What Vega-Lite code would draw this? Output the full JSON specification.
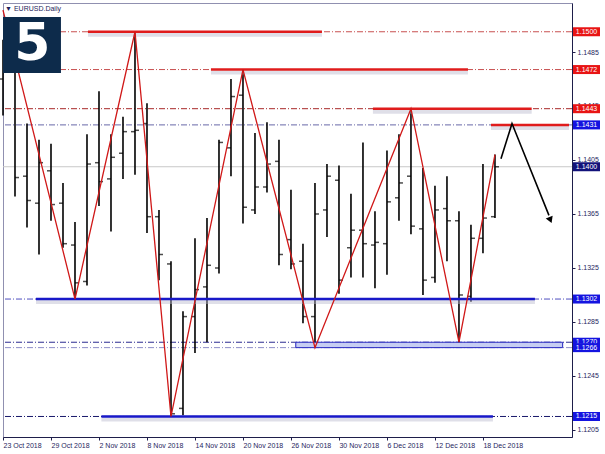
{
  "$schema": "https://vega.github.io/schema/vega-lite/v6.json",
  "width": 569,
  "height": 434,
  "autosize": "none",
  "padding": {"left": 3, "top": 3, "right": 33, "bottom": 17},
  "background": "white",
  "config": {
    "view": {"stroke": "#9090b0", "strokeWidth": 1},
    "font": "Liberation Sans",
    "axis": {"grid": false, "domainColor": "#1e1e4a", "tickColor": "#1e1e4a", "labelColor": "#26265e", "labelFontSize": 7, "tickSize": 3, "labelOverlap": false, "labelFlush": false}
  },
  "resolve": {"scale": {"color": "independent"}},
  "datasets": {
    "bars": [
      {"i": 0, "d": "2018-10-23", "o": 1.1465, "h": 1.1494, "l": 1.1438, "c": 1.1472},
      {"i": 1, "d": "2018-10-24", "o": 1.1471, "h": 1.1473, "l": 1.1378, "c": 1.1392},
      {"i": 2, "d": "2018-10-25", "o": 1.1393, "h": 1.1432, "l": 1.1355, "c": 1.1375},
      {"i": 3, "d": "2018-10-26", "o": 1.1373, "h": 1.1420, "l": 1.1335, "c": 1.1403},
      {"i": 4, "d": "2018-10-29", "o": 1.1397, "h": 1.1417, "l": 1.1360, "c": 1.1372},
      {"i": 5, "d": "2018-10-30", "o": 1.1373, "h": 1.1388, "l": 1.1340, "c": 1.1343},
      {"i": 6, "d": "2018-10-31", "o": 1.1342, "h": 1.1359, "l": 1.1302, "c": 1.1314},
      {"i": 7, "d": "2018-11-01", "o": 1.1315, "h": 1.1424, "l": 1.1312, "c": 1.1402},
      {"i": 8, "d": "2018-11-02", "o": 1.1403, "h": 1.1456, "l": 1.1371, "c": 1.1389},
      {"i": 9, "d": "2018-11-05", "o": 1.1391, "h": 1.1424, "l": 1.1352, "c": 1.1407},
      {"i": 10, "d": "2018-11-06", "o": 1.1410, "h": 1.1437, "l": 1.1391, "c": 1.1426},
      {"i": 11, "d": "2018-11-07", "o": 1.1426, "h": 1.1500, "l": 1.1394, "c": 1.1427},
      {"i": 12, "d": "2018-11-08", "o": 1.1432, "h": 1.1447, "l": 1.1351, "c": 1.1363},
      {"i": 13, "d": "2018-11-09", "o": 1.1363, "h": 1.1368, "l": 1.1316, "c": 1.1335},
      {"i": 14, "d": "2018-11-12", "o": 1.1328, "h": 1.1330, "l": 1.1215, "c": 1.1217},
      {"i": 15, "d": "2018-11-13", "o": 1.1221, "h": 1.1293, "l": 1.1216, "c": 1.1289},
      {"i": 16, "d": "2018-11-14", "o": 1.1289, "h": 1.1347, "l": 1.1262, "c": 1.1309},
      {"i": 17, "d": "2018-11-15", "o": 1.1311, "h": 1.1362, "l": 1.1270, "c": 1.1327},
      {"i": 18, "d": "2018-11-16", "o": 1.1325, "h": 1.1420, "l": 1.1321, "c": 1.1418},
      {"i": 19, "d": "2018-11-19", "o": 1.1414, "h": 1.1465, "l": 1.1393, "c": 1.1452},
      {"i": 20, "d": "2018-11-20", "o": 1.1453, "h": 1.1472, "l": 1.1358, "c": 1.1370},
      {"i": 21, "d": "2018-11-21", "o": 1.1368, "h": 1.1425, "l": 1.1365, "c": 1.1385},
      {"i": 22, "d": "2018-11-22", "o": 1.1385, "h": 1.1433, "l": 1.1381, "c": 1.1402},
      {"i": 23, "d": "2018-11-23", "o": 1.1404, "h": 1.1420, "l": 1.1327, "c": 1.1335},
      {"i": 24, "d": "2018-11-26", "o": 1.1346, "h": 1.1383, "l": 1.1324, "c": 1.1328},
      {"i": 25, "d": "2018-11-27", "o": 1.1330, "h": 1.1343, "l": 1.1284, "c": 1.1289},
      {"i": 26, "d": "2018-11-28", "o": 1.1289, "h": 1.1388, "l": 1.1266, "c": 1.1365},
      {"i": 27, "d": "2018-11-29", "o": 1.1368, "h": 1.1402, "l": 1.1348, "c": 1.1393},
      {"i": 28, "d": "2018-11-30", "o": 1.1390, "h": 1.1401, "l": 1.1306, "c": 1.1316},
      {"i": 29, "d": "2018-12-03", "o": 1.1340, "h": 1.1380, "l": 1.1318, "c": 1.1353},
      {"i": 30, "d": "2018-12-04", "o": 1.1353, "h": 1.1418, "l": 1.1318, "c": 1.1343},
      {"i": 31, "d": "2018-12-05", "o": 1.1342, "h": 1.1367, "l": 1.1310, "c": 1.1344},
      {"i": 32, "d": "2018-12-06", "o": 1.1343, "h": 1.1412, "l": 1.1320, "c": 1.1374},
      {"i": 33, "d": "2018-12-07", "o": 1.1377, "h": 1.1424, "l": 1.1360, "c": 1.1388},
      {"i": 34, "d": "2018-12-10", "o": 1.1393, "h": 1.1443, "l": 1.1350, "c": 1.1356},
      {"i": 35, "d": "2018-12-11", "o": 1.1354, "h": 1.1399, "l": 1.1305, "c": 1.1316},
      {"i": 36, "d": "2018-12-12", "o": 1.1318, "h": 1.1386, "l": 1.1314, "c": 1.1368},
      {"i": 37, "d": "2018-12-13", "o": 1.1369, "h": 1.1393, "l": 1.1330, "c": 1.1360},
      {"i": 38, "d": "2018-12-14", "o": 1.1360, "h": 1.1367, "l": 1.1269, "c": 1.1305},
      {"i": 39, "d": "2018-12-17", "o": 1.1304, "h": 1.1357, "l": 1.1300, "c": 1.1347},
      {"i": 40, "d": "2018-12-18", "o": 1.1347, "h": 1.1402, "l": 1.1336, "c": 1.1362},
      {"i": 41, "d": "2018-12-19", "o": 1.1363, "h": 1.1409, "l": 1.1362, "c": 1.1400}
    ],
    "levels": [
      {"p": 1.1500, "k": "res"},
      {"p": 1.1472, "k": "res"},
      {"p": 1.1443, "k": "res2"},
      {"p": 1.1431, "k": "tgt"},
      {"p": 1.1400, "k": "cur"},
      {"p": 1.1302, "k": "sup"},
      {"p": 1.1270, "k": "sup2"},
      {"p": 1.1266, "k": "sup3"},
      {"p": 1.1215, "k": "low"}
    ],
    "segs": [
      {"p": 1.1500, "a": 7.08, "b": 26.58, "k": "res"},
      {"p": 1.1472, "a": 17.33, "b": 38.75, "k": "res"},
      {"p": 1.1443, "a": 30.83, "b": 44.06, "k": "res"},
      {"p": 1.1431, "a": 40.67, "b": 47.17, "k": "res"},
      {"p": 1.1302, "a": 2.75, "b": 44.33, "k": "sup"},
      {"p": 1.1215, "a": 8.2, "b": 40.83, "k": "sup"}
    ],
    "zone": [
      {"a": 24.4, "b": 46.64, "top": 1.1270, "bot": 1.1266}
    ],
    "zigzag": [
      {"n": 0, "i": 0, "p": 1.1516},
      {"n": 1, "i": 6, "p": 1.1302},
      {"n": 2, "i": 11, "p": 1.1500},
      {"n": 3, "i": 14, "p": 1.1215},
      {"n": 4, "i": 20, "p": 1.1472},
      {"n": 5, "i": 26, "p": 1.1266},
      {"n": 6, "i": 34, "p": 1.1443},
      {"n": 7, "i": 38, "p": 1.1270},
      {"n": 8, "i": 41, "p": 1.1409}
    ],
    "arrow": [
      {"n": 0, "i": 41.5, "p": 1.1406},
      {"n": 1, "i": 42.42, "p": 1.1432},
      {"n": 2, "i": 45.5, "p": 1.1364}
    ],
    "head": [
      {"i": 45.62, "p": 1.13605}
    ],
    "one": [{}]
  },
  "layer": [
    {
      "data": {"name": "levels"},
      "transform": [{"filter": "datum.k == 'cur'"}],
      "mark": {"type": "rule", "color": "#c8c8c8", "strokeWidth": 1},
      "encoding": {
        "y": {"field": "p", "type": "quantitative", "title": null}
      }
    },
    {
      "data": {"name": "levels"},
      "transform": [{"filter": "datum.k != 'cur'"}],
      "mark": {"type": "rule", "strokeWidth": 1, "strokeDash": [6, 2, 1, 2]},
      "encoding": {
        "y": {"field": "p", "type": "quantitative", "title": null},
        "color": {"field": "k", "type": "nominal", "legend": null, "scale": {"domain": ["res", "res2", "tgt", "sup", "sup2", "sup3", "low"], "range": ["#c85050", "#a82828", "#6868a8", "#5050c0", "#2a2a90", "#8c8cc8", "#18186a"]}}
      }
    },
    {
      "data": {"name": "bars"},
      "mark": {"type": "rule", "color": "#000000", "strokeWidth": 1.6},
      "encoding": {
        "x": {"field": "i", "type": "quantitative", "title": null, "scale": {"domain": [0, 47.42], "nice": false, "zero": false},
          "axis": {"orient": "bottom", "values": [0, 4, 8, 12, 16, 20, 24, 28, 32, 36, 40], "labelExpr": "['23 Oct 2018','29 Oct 2018','2 Nov 2018','8 Nov 2018','14 Nov 2018','20 Nov 2018','26 Nov 2018','30 Nov 2018','6 Dec 2018','12 Dec 2018','18 Dec 2018'][round(datum.value/4)]", "labelAlign": "left", "labelBaseline": "top", "labelPadding": 1, "title": null}},
        "y": {"field": "h", "type": "quantitative", "title": null, "scale": {"domain": [1.11998, 1.15213], "nice": false, "zero": false},
          "axis": {"orient": "right", "values": [1.1205, 1.1225, 1.1245, 1.1265, 1.1285, 1.1305, 1.1325, 1.1345, 1.1365, 1.1385, 1.1405, 1.1425, 1.1445, 1.1465, 1.1485, 1.1505], "format": ".4f", "labelPadding": 2, "labelBaseline": "middle", "title": null}},
        "y2": {"field": "l"}
      }
    },
    {
      "data": {"name": "bars"},
      "mark": {"type": "tick", "orient": "horizontal", "color": "#000000", "size": 4, "thickness": 1.5, "xOffset": -2},
      "encoding": {
        "x": {"field": "i", "type": "quantitative", "title": null},
        "y": {"field": "o", "type": "quantitative", "title": null}
      }
    },
    {
      "data": {"name": "bars"},
      "mark": {"type": "tick", "orient": "horizontal", "color": "#000000", "size": 4, "thickness": 1.5, "xOffset": 2},
      "encoding": {
        "x": {"field": "i", "type": "quantitative", "title": null},
        "y": {"field": "c", "type": "quantitative", "title": null}
      }
    },
    {
      "data": {"name": "zone"},
      "mark": {"type": "rect", "fill": "#c6cdf2", "stroke": "#2626c0", "strokeWidth": 1},
      "encoding": {
        "x": {"field": "a", "type": "quantitative", "title": null},
        "x2": {"field": "b"},
        "y": {"field": "top", "type": "quantitative", "title": null},
        "y2": {"field": "bot"}
      }
    },
    {
      "data": {"name": "segs"},
      "mark": {"type": "rule", "color": "#b8b8cc", "strokeWidth": 4, "opacity": 0.45, "yOffset": 3},
      "encoding": {
        "x": {"field": "a", "type": "quantitative", "title": null},
        "x2": {"field": "b"},
        "y": {"field": "p", "type": "quantitative", "title": null}
      }
    },
    {
      "data": {"name": "segs"},
      "mark": {"type": "rule", "strokeWidth": 2.5},
      "encoding": {
        "x": {"field": "a", "type": "quantitative", "title": null},
        "x2": {"field": "b"},
        "y": {"field": "p", "type": "quantitative", "title": null},
        "color": {"field": "k", "type": "nominal", "legend": null, "scale": {"domain": ["res", "sup"], "range": ["#e01c1c", "#1818c8"]}}
      }
    },
    {
      "data": {"name": "zigzag"},
      "mark": {"type": "line", "color": "#d01818", "strokeWidth": 1.3},
      "encoding": {
        "x": {"field": "i", "type": "quantitative", "title": null},
        "y": {"field": "p", "type": "quantitative", "title": null},
        "order": {"field": "n"}
      }
    },
    {
      "data": {"name": "arrow"},
      "mark": {"type": "line", "color": "#000000", "strokeWidth": 1.6},
      "encoding": {
        "x": {"field": "i", "type": "quantitative", "title": null},
        "y": {"field": "p", "type": "quantitative", "title": null},
        "order": {"field": "n"}
      }
    },
    {
      "data": {"name": "head"},
      "mark": {"type": "point", "shape": "triangle-up", "filled": true, "color": "#000000", "size": 55, "angle": 158, "opacity": 1},
      "encoding": {
        "x": {"field": "i", "type": "quantitative", "title": null},
        "y": {"field": "p", "type": "quantitative", "title": null}
      }
    },
    {
      "data": {"name": "levels"},
      "transform": [{"filter": "datum.k != 'sup3'"}],
      "mark": {"type": "tick", "orient": "horizontal", "size": 27, "thickness": 9, "opacity": 1},
      "encoding": {
        "x": {"datum": 48.63, "type": "quantitative", "title": null},
        "y": {"field": "p", "type": "quantitative", "title": null},
        "color": {"field": "k", "type": "nominal", "legend": null, "scale": {"domain": ["res", "res2", "tgt", "cur", "sup", "sup2", "sup3", "low"], "range": ["#e81414", "#e81414", "#1414e0", "#12127a", "#1414e0", "#1414e0", "#1414e0", "#1414e0"]}}
      }
    },
    {
      "data": {"name": "levels"},
      "transform": [{"filter": "datum.k != 'sup3'"}],
      "mark": {"type": "text", "color": "white", "fontSize": 7, "align": "center", "baseline": "middle"},
      "encoding": {
        "x": {"datum": 48.63, "type": "quantitative", "title": null},
        "y": {"field": "p", "type": "quantitative", "title": null},
        "text": {"field": "p", "type": "quantitative", "format": ".4f"}
      }
    },
    {
      "data": {"name": "levels"},
      "transform": [{"filter": "datum.k == 'sup3'"}],
      "mark": {"type": "tick", "orient": "horizontal", "size": 27, "thickness": 9, "color": "#1414e0", "opacity": 1},
      "encoding": {
        "x": {"datum": 48.63, "type": "quantitative", "title": null},
        "y": {"field": "p", "type": "quantitative", "title": null}
      }
    },
    {
      "data": {"name": "levels"},
      "transform": [{"filter": "datum.k == 'sup3'"}],
      "mark": {"type": "text", "color": "white", "fontSize": 7, "align": "center", "baseline": "middle"},
      "encoding": {
        "x": {"datum": 48.63, "type": "quantitative", "title": null},
        "y": {"field": "p", "type": "quantitative", "title": null},
        "text": {"field": "p", "type": "quantitative", "format": ".4f"}
      }
    },
    {
      "data": {"name": "one"},
      "mark": {"type": "rect", "fill": "#0d2b4b"},
      "encoding": {
        "x": {"datum": 0, "type": "quantitative", "title": null},
        "x2": {"datum": 4.83},
        "y": {"datum": 1.15109, "type": "quantitative", "title": null},
        "y2": {"datum": 1.14694}
      }
    },
    {
      "data": {"name": "one"},
      "mark": {"type": "text", "text": "5", "font": "DejaVu Sans", "fontWeight": "bold", "fontSize": 52, "color": "white", "align": "center", "baseline": "middle"},
      "encoding": {
        "x": {"datum": 2.45, "type": "quantitative", "title": null},
        "y": {"datum": 1.1491, "type": "quantitative", "title": null}
      }
    },
    {
      "data": {"name": "one"},
      "mark": {"type": "text", "text": "▼ EURUSD.Daily", "fontSize": 7, "color": "#1e1e5a", "align": "left", "baseline": "middle"},
      "encoding": {
        "x": {"datum": 0.17, "type": "quantitative", "title": null},
        "y": {"datum": 1.15168, "type": "quantitative", "title": null}
      }
    }
  ]
}
